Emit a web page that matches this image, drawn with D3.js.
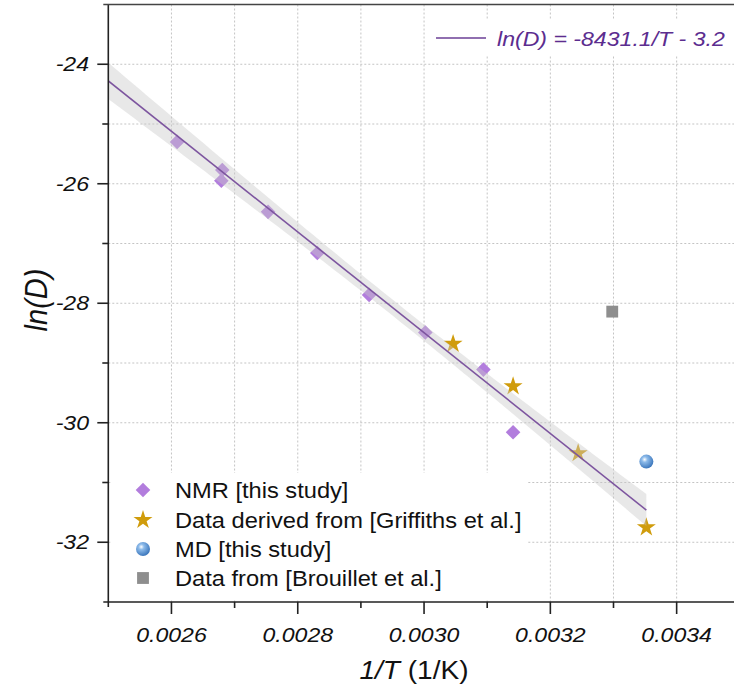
<!DOCTYPE html>
<html>
<head>
<meta charset="utf-8">
<script src="https://cdn.jsdelivr.net/npm/d3@7"></script>
<style>
  html, body { margin: 0; padding: 0; background: #fff; }
  svg { display: block; font-family: "Liberation Sans", Arial, sans-serif; }
</style>
</head>
<body>
<svg id="chart" width="734" height="689"></svg>
<script>
// Diffusion data: x = 1/T (1/K), y = ln(D)
const nmrX = [0.002609, 0.0026805, 0.002679, 0.002753, 0.002831, 0.002913, 0.003002, 0.003094, 0.003141];
const nmrY = [-25.30, -25.77, -25.95, -26.47, -27.16, -27.86, -28.49, -29.11, -30.16];
const griffX = [0.003046, 0.003141, 0.003244, 0.003352];
const griffY = [-28.68, -29.39, -30.51, -31.75];
const mdX = [0.003352];
const mdY = [-30.65];
const brouX = [0.003298];
const brouY = [-28.14];

// Arrhenius fit
const fitSlope = -8431.1;
const fitIntercept = -3.2;
const fitLabel = "ln(D) = -8431.1/T - 3.2";

const xTicks = [0.0026, 0.0028, 0.0030, 0.0032, 0.0034];
const xMinor = [0.0027, 0.0029, 0.0031, 0.0033];
const yTicks = [-24, -26, -28, -30, -32];
const yMinor = [-25, -27, -29, -31, -33];
const legendLabels = ["NMR [this study]", "Data derived from [Griffiths et al.]", "MD [this study]", "Data from [Brouillet et al.]"];

const svg = d3.select("#chart");
const W = 734;
const SX = 1.1; // horizontal stretch applied to text

const x = d3.scaleLinear().domain([0.0025, 0.0035]).range([108.3, 739.8]);
const y = d3.scaleLinear().domain([-33, -23]).range([602, 4.5]);

const defs = svg.append("defs");
defs.append("clipPath").attr("id", "plotClip")
  .append("rect").attr("x", x(0.0025)).attr("y", y(-23)).attr("width", W - x(0.0025)).attr("height", y(-33) - y(-23));
const grad = defs.append("radialGradient").attr("id", "sphere")
  .attr("cx", "38%").attr("cy", "35%").attr("r", "65%");
grad.append("stop").attr("offset", "0%").attr("stop-color", "#ffffff");
grad.append("stop").attr("offset", "30%").attr("stop-color", "#8dbbea");
grad.append("stop").attr("offset", "100%").attr("stop-color", "#3d78bd");

const plot = svg.append("g").attr("clip-path", "url(#plotClip)");

// grid: every 0.0001 in x, every 1 in y
const gridX = d3.range(26, 35).map(d => d / 10000);
const gridY = d3.range(-32, -23);
plot.append("g").selectAll("line").data(gridX).join("line")
  .attr("x1", d => x(d)).attr("x2", d => x(d))
  .attr("y1", y(-23)).attr("y2", y(-33))
  .attr("stroke", "#c4c4c4").attr("stroke-width", 1).attr("stroke-dasharray", "2,2");
plot.append("g").selectAll("line").data(gridY).join("line")
  .attr("x1", x(0.0025)).attr("x2", W)
  .attr("y1", d => y(d)).attr("y2", d => y(d))
  .attr("stroke", "#c4c4c4").attr("stroke-width", 1).attr("stroke-dasharray", "2,2");

// legend backgrounds hide the grid beneath them
plot.append("rect").attr("x", 425).attr("y", 19).attr("width", W - 425).attr("height", 36).attr("fill", "#fff");
plot.append("rect").attr("x", 112).attr("y", 473).attr("width", 416).attr("height", 127).attr("fill", "#fff");

const diamond = d3.symbol().type(d3.symbolDiamond2).size(136);
const star = d3.symbol().type(d3.symbolStar).size(112);
const square = d3.symbol().type(d3.symbolSquare).size(140);

// data markers
plot.append("g").selectAll("path").data(nmrX.map((v, i) => [v, nmrY[i]])).join("path")
  .attr("d", diamond).attr("transform", d => `translate(${x(d[0])},${y(d[1])})`)
  .attr("fill", "#b27ddd");
plot.append("g").selectAll("path").data(griffX.map((v, i) => [v, griffY[i]])).join("path")
  .attr("d", star).attr("transform", d => `translate(${x(d[0])},${y(d[1])})`)
  .attr("fill", "#d09c0c");
plot.append("g").selectAll("path").data(brouX.map((v, i) => [v, brouY[i]])).join("path")
  .attr("d", square).attr("transform", d => `translate(${x(d[0])},${y(d[1])})`)
  .attr("fill", "#8e8e8e");
plot.append("g").selectAll("circle").data(mdX.map((v, i) => [v, mdY[i]])).join("circle")
  .attr("cx", d => x(d[0])).attr("cy", d => y(d[1])).attr("r", 7)
  .attr("fill", "url(#sphere)");

// 95% confidence band of the fit, from the NMR + Griffiths points
const fitX = nmrX.concat(griffX);
const fitY = nmrY.concat(griffY);
const n = fitX.length;
const xbar = d3.mean(fitX);
const sxx = d3.sum(fitX, v => (v - xbar) ** 2);
const sse = d3.sum(fitX, (v, i) => (fitY[i] - (fitSlope * v + fitIntercept)) ** 2);
const s = Math.sqrt(sse / (n - 2));
const tCrit = 2.201; // t(0.975, 11)
const xStart = 0.0025, xEnd = d3.max(fitX);
const bandPts = d3.range(0, 101).map(k => xStart + (xEnd - xStart) * k / 100);
const hw = v => tCrit * s * Math.sqrt(1 / n + (v - xbar) ** 2 / sxx);
plot.append("path")
  .datum(bandPts)
  .attr("d", d3.area().x(v => x(v))
    .y0(v => y(fitSlope * v + fitIntercept - hw(v)))
    .y1(v => y(fitSlope * v + fitIntercept + hw(v))))
  .attr("fill", "#c8c8c8").attr("fill-opacity", 0.42);

plot.append("line")
  .attr("x1", x(xStart)).attr("y1", y(fitSlope * xStart + fitIntercept))
  .attr("x2", x(xEnd)).attr("y2", y(fitSlope * xEnd + fitIntercept))
  .attr("stroke", "#7d559f").attr("stroke-width", 1.6);

// axes
const ax = svg.append("g").attr("stroke", "#222").attr("stroke-width", 1.6);
ax.append("line").attr("x1", x(0.0025)).attr("x2", x(0.0025)).attr("y1", y(-23)).attr("y2", y(-33) + 5);
ax.append("line").attr("x1", x(0.0025) - 5).attr("x2", W).attr("y1", y(-33)).attr("y2", y(-33));
svg.append("line").attr("x1", x(0.0025) - 5).attr("x2", W).attr("y1", y(-23)).attr("y2", y(-23))
  .attr("stroke", "#444").attr("stroke-width", 1.6);

ax.selectAll(".ymaj").data(yTicks).join("line")
  .attr("x1", x(0.0025) - 11).attr("x2", x(0.0025)).attr("y1", d => y(d)).attr("y2", d => y(d));
ax.selectAll(".ymin").data(yMinor.filter(d => d > -33)).join("line").attr("class", "ymin")
  .attr("x1", x(0.0025) - 6).attr("x2", x(0.0025)).attr("y1", d => y(d)).attr("y2", d => y(d));
ax.selectAll(".xmaj").data(xTicks).join("line").attr("class", "xmaj")
  .attr("x1", d => x(d)).attr("x2", d => x(d)).attr("y1", y(-33)).attr("y2", y(-33) + 12);
ax.selectAll(".xmin").data(xMinor).join("line").attr("class", "xmin")
  .attr("x1", d => x(d)).attr("x2", d => x(d)).attr("y1", y(-33)).attr("y2", y(-33) + 6);

const place = (px, py) => `translate(${px},${py}) scale(${SX},1)`;

svg.append("g").selectAll("text").data(yTicks).join("text")
  .attr("transform", d => place(89, y(d) + 7))
  .attr("text-anchor", "end").attr("font-size", 21).attr("font-style", "italic").attr("fill", "#111")
  .text(d => d);
svg.append("g").selectAll("text").data(xTicks).join("text")
  .attr("transform", d => place(x(d), 642))
  .attr("text-anchor", "middle").attr("font-size", 21).attr("font-style", "italic").attr("fill", "#111")
  .text(d => d3.format(".4f")(d));

// axis titles
svg.append("text").attr("transform", `translate(47,300) rotate(-90) scale(1,${SX})`)
  .attr("text-anchor", "middle").attr("font-size", 29).attr("font-style", "italic").attr("fill", "#111")
  .text("ln(D)");
const xt = svg.append("text").attr("transform", place(414, 679)).attr("text-anchor", "middle")
  .attr("font-size", 25.5).attr("fill", "#111");
xt.append("tspan").attr("font-style", "italic").text("1/T");
xt.append("tspan").text(" (1/K)");

// fit legend
svg.append("line").attr("x1", 436).attr("x2", 486).attr("y1", 38).attr("y2", 38)
  .attr("stroke", "#6b3f96").attr("stroke-width", 1.6);
svg.append("text").attr("transform", place(497, 46)).attr("font-size", 21).attr("font-style", "italic")
  .attr("fill", "#5c2d8f").text(fitLabel);

// marker legend
const lg = svg.append("g");
const rowY = [490, 520, 549, 578];
lg.append("path").attr("d", diamond).attr("transform", `translate(143,${rowY[0]})`).attr("fill", "#b27ddd");
lg.append("path").attr("d", star).attr("transform", `translate(143,${rowY[1]})`).attr("fill", "#d09c0c");
lg.append("circle").attr("cx", 143).attr("cy", rowY[2]).attr("r", 7).attr("fill", "url(#sphere)");
lg.append("path").attr("d", square).attr("transform", `translate(143,${rowY[3]})`).attr("fill", "#8e8e8e");
lg.selectAll("text").data(legendLabels).join("text")
  .attr("transform", (d, i) => place(175, rowY[i] + 7.5)).attr("font-size", 21.5).attr("fill", "#111")
  .text(d => d);
</script>
</body>
</html>
